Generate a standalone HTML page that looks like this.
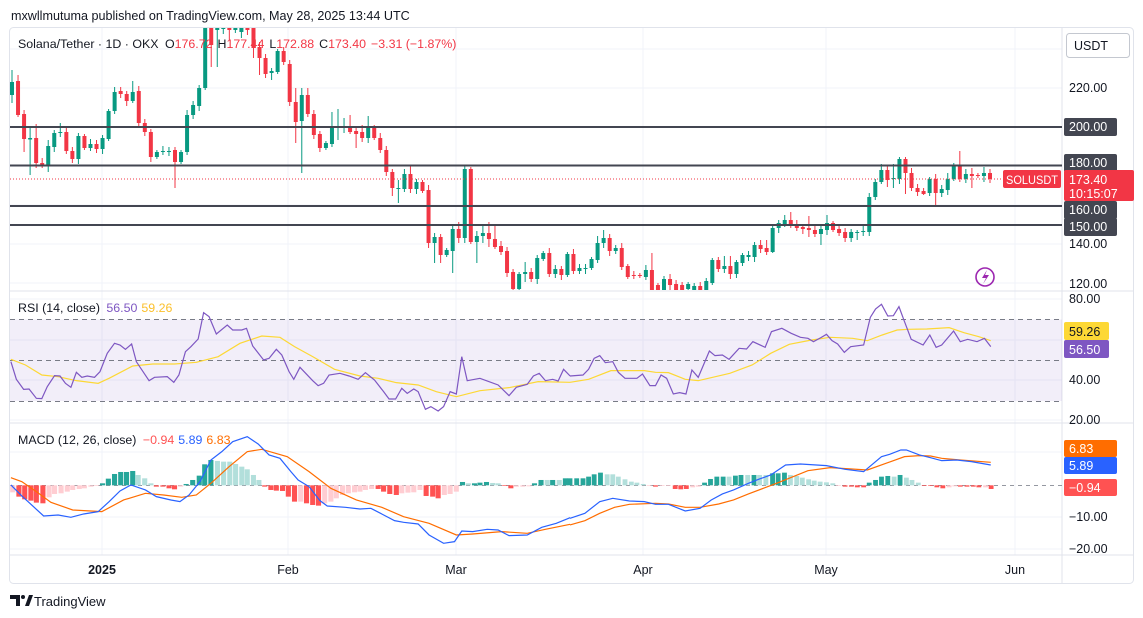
<!DOCTYPE html>
<html><head><meta charset="utf-8"><style>
html,body{margin:0;padding:0;background:#fff;width:1143px;height:618px;overflow:hidden}
svg{display:block;font-family:"Liberation Sans",sans-serif}
</style></head><body>
<svg id="s" width="1143" height="618" viewBox="0 0 1143 618" xmlns="http://www.w3.org/2000/svg">
<defs><clipPath id="cm"><rect x="10" y="28" width="1052" height="262"/></clipPath>
<clipPath id="cr"><rect x="10" y="292" width="1052" height="130"/></clipPath>
<clipPath id="cd"><rect x="10" y="424" width="1052" height="130"/></clipPath></defs>
<text x="11" y="20" font-size="12.6" fill="#131722">mxwllmutuma published on TradingView.com, May 28, 2025 13:44 UTC</text>
<rect x="9.5" y="27.5" width="1124" height="556" rx="4" fill="#fff" stroke="#e0e3eb"/>
<g stroke="#f0f3fa" stroke-width="1">
<line x1="10" x2="1062" y1="49" y2="49"/><line x1="10" x2="1062" y1="88" y2="88"/><line x1="10" x2="1062" y1="127" y2="127"/><line x1="10" x2="1062" y1="166" y2="166"/><line x1="10" x2="1062" y1="205" y2="205"/><line x1="10" x2="1062" y1="244" y2="244"/><line x1="10" x2="1062" y1="283" y2="283"/>
<line x1="10" x2="1062" y1="340" y2="340"/><line x1="10" x2="1062" y1="380" y2="380"/><line x1="10" x2="1062" y1="299" y2="299"/><line x1="10" x2="1062" y1="420" y2="420"/>
<line x1="10" x2="1062" y1="452" y2="452"/><line x1="10" x2="1062" y1="517" y2="517"/><line x1="10" x2="1062" y1="549" y2="549"/>
<line x1="102" x2="102" y1="28" y2="555"/><line x1="288" x2="288" y1="28" y2="555"/><line x1="456" x2="456" y1="28" y2="555"/><line x1="643" x2="643" y1="28" y2="555"/><line x1="826" x2="826" y1="28" y2="555"/><line x1="1015" x2="1015" y1="28" y2="555"/>
</g>
<line x1="10" x2="1133" y1="291" y2="291" stroke="#e0e3eb"/>
<line x1="10" x2="1133" y1="423" y2="423" stroke="#e0e3eb"/>
<line x1="10" x2="1133" y1="555" y2="555" stroke="#e0e3eb"/>
<line x1="1062" x2="1062" y1="28" y2="583" stroke="#e0e3eb"/>
<g id="candles" clip-path="url(#cm)"></g>
<g stroke="#434651" stroke-width="2">
<line x1="10" x2="1062" y1="127" y2="127"/><line x1="10" x2="1062" y1="165.5" y2="165.5"/><line x1="10" x2="1062" y1="206" y2="206"/><line x1="10" x2="1062" y1="225" y2="225"/>
</g>
<line x1="10" x2="1062" y1="179" y2="179" stroke="#f23645" stroke-dasharray="1,2"/>
<text x="18" y="48" font-size="12.4" fill="#131722">Solana/Tether · 1D · OKX <tspan dx="3">O</tspan><tspan fill="#f23645">176.72</tspan><tspan dx="5">H</tspan><tspan fill="#f23645">177.44</tspan><tspan dx="5">L</tspan><tspan fill="#f23645">172.88</tspan><tspan dx="5">C</tspan><tspan fill="#f23645">173.40</tspan><tspan dx="5" fill="#f23645">−3.31 (−1.87%)</tspan></text>
<circle cx="985" cy="277" r="9" fill="none" stroke="#9c27b0" stroke-width="1.6"/>
<path d="M987,270 L982,278 L986,278 L983,284 L989,275 L985,275 Z" fill="#9c27b0"/>
<rect x="1066.5" y="33.5" width="63" height="24" rx="3" fill="#fff" stroke="#c4c8d0"/>
<text x="1074" y="50" font-size="12.5" fill="#131722">USDT</text>
<g font-size="12.5" fill="#131722">
<text x="1069" y="92">220.00</text><text x="1069" y="248">140.00</text><text x="1069" y="288">120.00</text>
</g>
<g fill="#434651"><rect x="1064" y="118" width="53" height="18" rx="2"/><rect x="1064" y="154" width="53" height="18" rx="2"/><rect x="1064" y="201" width="53" height="18" rx="2"/><rect x="1064" y="218" width="53" height="18" rx="2"/></g>
<g font-size="12.5" fill="#fff"><text x="1069" y="131">200.00</text><text x="1069" y="167">180.00</text><text x="1069" y="214">160.00</text><text x="1069" y="231">150.00</text></g>
<rect x="1003" y="170" width="58" height="18" rx="2" fill="#f23645"/>
<text x="1006" y="184" font-size="12" fill="#fff" textLength="52" lengthAdjust="spacingAndGlyphs">SOLUSDT</text>
<rect x="1064" y="170" width="70" height="31" rx="2" fill="#f23645"/>
<text x="1069" y="184" font-size="12.5" fill="#fff">173.40</text>
<text x="1069" y="198" font-size="12.5" fill="#fff">10:15:07</text>
<rect x="10" y="319.5" width="1052" height="81.5" fill="#7e57c2" fill-opacity="0.1"/>
<g stroke="#787b86" stroke-dasharray="5,4" stroke-width="1"><line x1="10" x2="1062" y1="319.5" y2="319.5"/><line x1="10" x2="1062" y1="360.5" y2="360.5"/><line x1="10" x2="1062" y1="401.5" y2="401.5"/></g>
<g clip-path="url(#cr)" fill="none" stroke-width="1.2">
<g transform="translate(0,290) scale(0.3636,0.3333)">
<polyline vector-effect="non-scaling-stroke" stroke="#fdd835" points="30,208 70,225 115,255 160,260 210,272 270,280 300,265 365,228 420,222 480,222 540,217 600,200 660,160 720,138 770,142 810,170 860,200 920,238 990,258 1040,265 1090,278 1150,285 1200,305 1255,320 1320,302 1400,293 1480,275 1568,277"/>
<polyline vector-effect="non-scaling-stroke" stroke="#7e57c2" points="30,215 45,268 65,298 80,297 100,325 115,326 130,290 150,257 165,258 180,280 195,292 210,247 225,262 240,258 260,262 275,245 295,190 315,160 330,165 345,178 362,162 375,215 410,272 425,262 460,260 478,277 492,255 510,185 525,170 545,147 560,68 575,80 595,132 625,105 640,120 665,120 678,115 695,168 725,210 740,205 760,178 775,195 795,245 808,268 825,232 860,272 875,287 890,280 905,255 935,250 960,258 985,268 1005,248 1030,270 1055,305 1070,327 1088,327 1105,295 1120,310 1138,297 1150,305 1170,358 1185,350 1205,363 1220,350 1238,305 1255,312 1270,200 1285,272 1320,265 1370,285 1400,317 1420,292 1450,283 1467,258 1483,250 1500,272 1520,268 1535,273 1550,238 1568,258"/>
</g>
<g transform="translate(570,290) scale(0.3717,0.3333)">
<polyline vector-effect="non-scaling-stroke" stroke="#fdd835" points="0,277 50,268 110,242 200,242 230,247 265,248 310,268 345,272 430,250 490,225 540,190 590,163 650,150 700,142 760,145 800,152 840,135 880,120 910,118 960,117 1020,113 1060,128 1100,140 1132,152"/>
<polyline vector-effect="non-scaling-stroke" stroke="#7e57c2" points="0,258 35,255 50,238 65,205 80,197 95,218 115,215 130,247 148,265 180,265 195,252 215,287 230,287 245,255 260,265 278,312 295,308 312,312 328,240 345,262 375,183 390,197 410,195 428,208 455,175 475,177 492,155 525,172 542,125 570,115 595,130 620,142 640,145 655,155 675,143 690,133 705,152 720,162 738,187 755,170 790,165 808,82 822,57 838,43 855,78 870,77 885,50 900,95 918,148 950,165 968,135 985,172 1000,165 1032,123 1050,155 1070,148 1095,155 1115,145 1132,170"/>
</g></g>
<text x="18" y="312" font-size="12.4" fill="#131722">RSI (14, close) <tspan dx="3" fill="#7e57c2">56.50</tspan><tspan dx="4" fill="#fbc02d">59.26</tspan></text>
<g font-size="12.5" fill="#131722"><text x="1069" y="303">80.00</text><text x="1069" y="384">40.00</text><text x="1069" y="424">20.00</text></g>
<rect x="1064" y="322" width="45" height="18" rx="2" fill="#fdd835"/><text x="1069" y="336" font-size="12.5" fill="#131722">59.26</text>
<rect x="1064" y="340" width="45" height="18" rx="2" fill="#7e57c2"/><text x="1069" y="354" font-size="12.5" fill="#fff">56.50</text>
<line x1="10" x2="1062" y1="485.5" y2="485.5" stroke="#9598a1" stroke-dasharray="4,4"/>
<g clip-path="url(#cd)">
<g id="h3" transform="translate(0,290) scale(0.3636,0.3333)"></g>
<g id="h4" transform="translate(570,290) scale(0.3717,0.3333)"></g>
<g fill="none" stroke-width="1.2">
<g transform="translate(0,290) scale(0.3636,0.3333)">
<polyline vector-effect="non-scaling-stroke" stroke="#ff6d00" points="30,563 60,575 100,605 140,637 200,660 280,665 340,630 400,610 450,615 500,622 540,615 580,580 630,530 680,485 720,478 790,500 850,545 910,595 980,630 1050,652 1110,680 1180,700 1255,735 1300,732 1380,725 1450,730 1500,718 1568,703"/>
<polyline vector-effect="non-scaling-stroke" stroke="#2962ff" points="30,585 60,618 90,648 120,678 160,675 195,682 230,672 270,665 300,635 330,603 360,585 400,600 430,620 470,630 495,635 520,615 550,575 580,510 610,485 640,455 680,440 710,462 740,495 770,505 800,545 820,570 850,590 880,632 900,648 950,652 990,657 1020,655 1050,672 1085,692 1110,697 1150,702 1180,735 1220,760 1250,755 1270,723 1300,725 1340,718 1370,720 1400,737 1450,735 1490,712 1530,700 1568,683"/>
</g>
<g transform="translate(570,290) scale(0.3717,0.3333)">
<polyline vector-effect="non-scaling-stroke" stroke="#ff6d00" points="0,705 40,692 80,670 120,652 160,643 230,640 265,642 310,652 350,652 400,642 440,630 480,612 520,595 560,578 600,560 640,542 700,533 800,540 850,520 900,500 940,497 970,498 1000,505 1050,510 1132,517"/>
<polyline vector-effect="non-scaling-stroke" stroke="#2962ff" points="0,685 40,670 80,635 115,625 160,633 200,635 230,643 265,643 310,663 350,655 380,630 410,612 440,600 480,580 510,567 540,555 580,525 620,522 690,527 740,538 790,545 838,500 860,493 890,480 905,480 940,495 970,503 1000,512 1040,510 1080,515 1132,525"/>
</g></g></g>
<text x="18" y="444" font-size="12.4" fill="#131722">MACD (12, 26, close) <tspan dx="3" fill="#ff5252">−0.94</tspan><tspan dx="4" fill="#2962ff">5.89</tspan><tspan dx="4" fill="#ff6d00">6.83</tspan></text>
<g font-size="12.5" fill="#131722"><text x="1069" y="521">−10.00</text><text x="1069" y="553">−20.00</text></g>
<rect x="1064" y="440" width="53" height="17" rx="2" fill="#ff6d00"/><text x="1069" y="453" font-size="12.5" fill="#fff">6.83</text>
<rect x="1064" y="457" width="53" height="17" rx="2" fill="#2962ff"/><text x="1069" y="470" font-size="12.5" fill="#fff">5.89</text>
<rect x="1064" y="479" width="53" height="17" rx="2" fill="#ff5252"/><text x="1069" y="492" font-size="12.5" fill="#fff">−0.94</text>
<g font-size="12.5" fill="#131722" text-anchor="middle">
<text x="102" y="574" font-weight="bold">2025</text><text x="288" y="574">Feb</text><text x="456" y="574">Mar</text><text x="643" y="574">Apr</text><text x="826" y="574">May</text><text x="1015" y="574">Jun</text>
</g>
<g fill="#131722"><path d="M10,595 h10 v11 h-4 v-7 h-6z"/><circle cx="23" cy="597" r="2"/><path d="M25,606 l4,-11 h4 l-4,11z"/></g>
<text x="34" y="606" font-size="13" fill="#131722">TradingView</text>
</svg>
<script>
var NS="http://www.w3.org/2000/svg";
function el(p,t,a){var e=document.createElementNS(NS,t);for(var k in a)e.setAttribute(k,a[k]);p.appendChild(e);return e;}
var C=[[1,82,95,70,103],[0,81,115,75,117],[0,114,139,0,152],[1,138,139.5,127,175],[0,138,163,124,168],[0,163,166,0,168],[1,146,166,140,172],[1,133,147],[1,132,133,123,137],[0,132,151],[0,151,159],[1,136,159],[0,136,148],[1,144,148],[0,144,149],[1,138,149],[1,111,139],[1,92,111],[0,91,94],[0,94,101],[1,92,101,81,0],[0,91,123],[0,123,132],[0,132,157],[1,152,157],[1,151,152],[1,151,152],[0,150,162,0,188],[1,152,162],[1,115,152],[1,105,115],[1,88,106],[1,18,88],[0,15,45,0,67],[1,22,30,0,67],[1,27,29],[0,18,30,0,40],[1,22,30],[1,15,32,0,38],[0,15,30],[0,20,48,0,58],[0,47,58,0,75],[0,58,74],[1,71,73,0,80],[1,51,72],[0,51,62,47,0],[0,64,102],[0,102,122,88,143],[1,95,121,88,173],[0,95,114,88,0],[0,114,135],[0,134,148,0,152],[1,143,148],[1,127,144,112,0],[1,126,128,109,140],[1,126,128,118,0],[0,126,132,115,0],[0,131,134,0,148],[0,132,138,125,0],[1,127,138,116,0],[0,127,138,125,0],[0,138,150],[0,150,172],[0,172,188,0,196],[1,188,189,180,203],[1,174,189],[0,174,189,165,0],[1,182,189],[0,182,191],[0,190,243,0,248],[1,237,243,0,263],[0,237,255,0,263],[1,250,255],[1,229,251,0,273],[0,229,238,222,243],[1,169,238],[0,169,242,167,0],[1,236,242,0,263],[1,233,236,225,243],[0,233,239,222,247],[0,239,247,224,0],[0,246,252],[0,251,273],[0,272,289],[1,274,289],[1,272,274,262,282],[0,272,279,0,282],[1,258,279],[1,253,259],[0,253,274],[1,269,274],[0,269,275,0,280],[1,254,275],[0,254,271],[1,268,271,264,274],[1,268,269,264,0],[1,259,268],[1,243,260,236,0],[1,238,243,230,248],[0,238,251,234,0],[1,248,251,245,254],[0,248,267],[0,266,277,264,279],[0,275,276,271,279],[0,275,276],[1,270,277,265,0],[0,270,290,253,0],[0,285,290,283,0],[1,279,290,276,0],[0,279,285,0,290],[0,284,290],[0,285,290],[1,284,289],[1,286,290,283,0],[0,286,290],[1,281,290],[1,260,283],[0,260,269,257,0],[1,266,269,256,0],[0,266,274,256,0],[1,262,274,0,278],[1,255,263,253,0],[1,255,257],[1,245,257],[0,245,249,240,253],[0,248,252,240,0],[1,228,252,0,253],[1,223,228],[1,220,225,215,0],[0,220,225,212,228],[0,224,228,0,231],[0,227,229,0,234],[0,228,230,216,237],[0,230,234],[1,229,234,0,245],[1,223,230,215,0],[0,223,230],[0,229,233],[0,232,238],[1,232,238,0,242],[1,232,233,0,240],[1,231,232,0,236],[1,197,232],[1,182,197,0,200],[1,170,182,164,0],[0,170,180,165,187],[1,178,179,164,188],[1,159,179,157,0],[0,159,173,157,194],[0,173,188],[0,188,192],[0,191,194,0,195],[1,179,193,0,196],[0,179,193,0,205],[1,189,193],[1,179,190,173,0],[1,165,179],[0,165,179,151,0],[1,174,179,169,0],[0,174,176,168,188],[0,175,176],[1,173,176,167,182],[0,173,179]];
var g=document.getElementById("candles"),n=C.length,sp=(990-12)/(n-1);
for(var i=0;i<n;i++){var c=C[i],x=12+i*sp,col=c[0]?"#089981":"#f23645";
var wt=c[3]||c[1]-2-(i*7%4),wb=c[4]||c[2]+2+(i*5%4);
el(g,"line",{x1:x,x2:x,y1:wt,y2:wb,stroke:col,"stroke-width":1});
var h=Math.max(1,c[2]-c[1]);el(g,"rect",{x:x-2,y:c[1],width:4,height:h,fill:col});}
var COL={g:"#26a69a",l:"#b2dfdb",r:"#ff5252",p:"#ffcdd2"};
function hist(id,data,w){var G=document.getElementById(id);for(var i=0;i<data.length;i++){var d=data[i],y=d[1],t=Math.min(y,586),b=Math.max(y,586);el(G,"rect",{x:d[0]-w/2,y:t,width:w,height:Math.max(2,b-t),fill:COL[d[2]]});}}
hist("h3",[[35,607,"p"],[52,620,"r"],[68,628,"r"],[85,632,"r"],[100,638,"r"],[118,640,"r"],[135,622,"p"],[150,612,"p"],[168,610,"p"],[185,605,"p"],[200,600,"p"],[218,597,"p"],[232,595,"p"],[250,590,"p"],[265,588,"p"],[282,580,"g"],[298,566,"g"],[315,552,"g"],[332,546,"g"],[348,546,"g"],[365,543,"g"],[380,555,"l"],[398,565,"l"],[415,580,"l"],[430,590,"r"],[448,590,"r"],[465,595,"r"],[480,598,"r"],[497,590,"p"],[512,582,"g"],[530,570,"g"],[548,557,"g"],[563,523,"g"],[580,510,"g"],[598,513,"l"],[615,515,"l"],[632,515,"l"],[648,522,"l"],[665,530,"l"],[680,538,"l"],[697,555,"l"],[712,570,"l"],[728,590,"r"],[745,600,"r"],[760,602,"r"],[777,603,"r"],[793,620,"r"],[810,635,"r"],[827,635,"p"],[843,640,"r"],[860,645,"r"],[876,647,"r"],[893,640,"p"],[910,635,"p"],[925,625,"p"],[942,615,"p"],[958,610,"p"],[975,607,"p"],[990,605,"p"],[1005,600,"p"],[1022,597,"p"],[1040,597,"r"],[1055,605,"r"],[1072,612,"r"],[1090,615,"r"],[1105,610,"p"],[1122,608,"p"],[1138,607,"p"],[1155,600,"p"],[1172,618,"r"],[1190,620,"r"],[1205,625,"r"],[1222,615,"p"],[1238,612,"p"],[1255,605,"p"],[1272,576,"g"],[1288,580,"l"],[1305,580,"g"],[1320,578,"g"],[1338,576,"g"],[1355,579,"l"],[1370,580,"l"],[1388,588,"r"],[1405,595,"r"],[1420,590,"p"],[1438,590,"p"],[1455,589,"p"],[1470,580,"g"],[1488,570,"g"],[1505,570,"l"],[1520,570,"g"],[1538,570,"l"],[1555,565,"g"]],14);
hist("h4",[[0,565,"g"],[18,565,"g"],[35,565,"g"],[50,560,"g"],[65,553,"g"],[82,548,"g"],[100,553,"l"],[115,553,"l"],[130,560,"l"],[148,568,"l"],[165,575,"l"],[180,578,"l"],[197,582,"l"],[213,588,"p"],[230,590,"r"],[248,588,"p"],[265,588,"p"],[283,597,"r"],[298,598,"r"],[313,597,"r"],[330,592,"p"],[345,590,"p"],[362,578,"g"],[378,567,"g"],[395,560,"g"],[412,560,"g"],[428,560,"l"],[445,557,"g"],[460,555,"g"],[478,555,"l"],[495,555,"g"],[510,555,"l"],[527,555,"l"],[545,550,"g"],[560,550,"g"],[577,548,"g"],[593,555,"l"],[610,558,"l"],[625,563,"l"],[642,568,"l"],[657,572,"l"],[673,575,"l"],[690,577,"l"],[707,580,"l"],[722,588,"p"],[740,590,"r"],[757,590,"r"],[773,592,"r"],[790,592,"r"],[805,578,"g"],[822,570,"g"],[838,560,"g"],[855,558,"g"],[872,560,"l"],[888,555,"g"],[905,563,"l"],[920,570,"l"],[937,578,"l"],[953,588,"r"],[970,588,"r"],[987,592,"r"],[1003,595,"r"],[1020,592,"p"],[1035,589,"p"],[1050,590,"r"],[1068,590,"r"],[1085,590,"r"],[1100,592,"r"],[1118,592,"p"],[1133,597,"r"]],13);
</script>
</body></html>
